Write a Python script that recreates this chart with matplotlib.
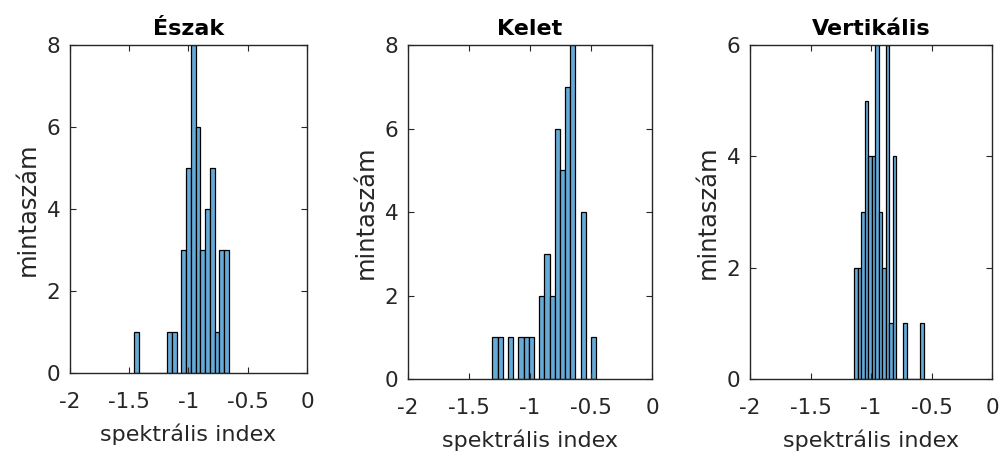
import numpy as np
import matplotlib
matplotlib.use("Agg")
import matplotlib.pyplot as plt

plt.rcParams['font.family'] = ['DejaVu Sans']
plt.rcParams['axes.unicode_minus'] = False

# histogram data (bin start, bin width, counts per bin)
eszak_start = -1.46
eszak_binw = 0.04
eszak_counts = [1, 0, 0, 0, 0, 0, 0, 1, 1, 0, 3, 5, 8, 6, 3, 4, 5, 1, 3, 3]

kelet_start = -1.309
kelet_binw = 0.0426
kelet_counts = [1, 1, 0, 1, 0, 1, 1, 1, 0, 2, 3, 2, 6, 5, 7, 8, 0, 4, 0, 1]

vert_start = -1.137
vert_binw = 0.0287
vert_counts = [2, 2, 3, 5, 4, 4, 6, 3, 2, 6, 1, 4, 0, 0, 1, 0, 0, 0, 0, 1]

titles = ['Észak', 'Kelet', 'Vertikális']
ylims = [8, 8, 6]
xticks = [-2, -1.5, -1, -0.5, 0]
xticklabels = ['-2', '-1.5', '-1', '-0.5', '0']

face = '#66AAD7'
axcol = '#262626'

fig = plt.figure(figsize=(10.01, 4.55), dpi=100)
positions = [
    [0.0699, 0.1802, 0.2368, 0.7209],
    [0.4076, 0.1670, 0.2438, 0.7341],
    [0.7493, 0.1670, 0.2418, 0.7341],
]
panels = [
    (eszak_start, eszak_binw, eszak_counts),
    (kelet_start, kelet_binw, kelet_counts),
    (vert_start, vert_binw, vert_counts),
]

for i, (start, bw, counts) in enumerate(panels):
    ax = fig.add_axes(positions[i])
    counts = np.array(counts)
    lefts = start + bw * np.arange(len(counts))
    ax.bar(lefts, counts, width=bw, align='edge', color=face,
           edgecolor='black', linewidth=0.9)
    ax.set_xlim(-2, 0)
    ax.set_ylim(0, ylims[i])
    ax.set_xticks(xticks)
    ax.set_xticklabels(xticklabels)
    ax.set_yticks(np.arange(0, ylims[i] + 1, 2))
    ax.tick_params(direction='in', top=True, right=True, length=4,
                   width=0.8, colors=axcol, labelsize=15.5)
    ax.tick_params(axis='x', pad=14)
    ax.tick_params(axis='y', pad=7)
    for s in ax.spines.values():
        s.set_color(axcol)
        s.set_linewidth(1.0)
    ax.set_title(titles[i], fontsize=16, fontweight='bold', pad=7)
    ax.set_xlabel('spektrális index', fontsize=16, color=axcol, labelpad=8)
    ax.set_ylabel('mintaszám', fontsize=17.5, color=axcol, labelpad=5)

fig.savefig('out.png', dpi=100)
